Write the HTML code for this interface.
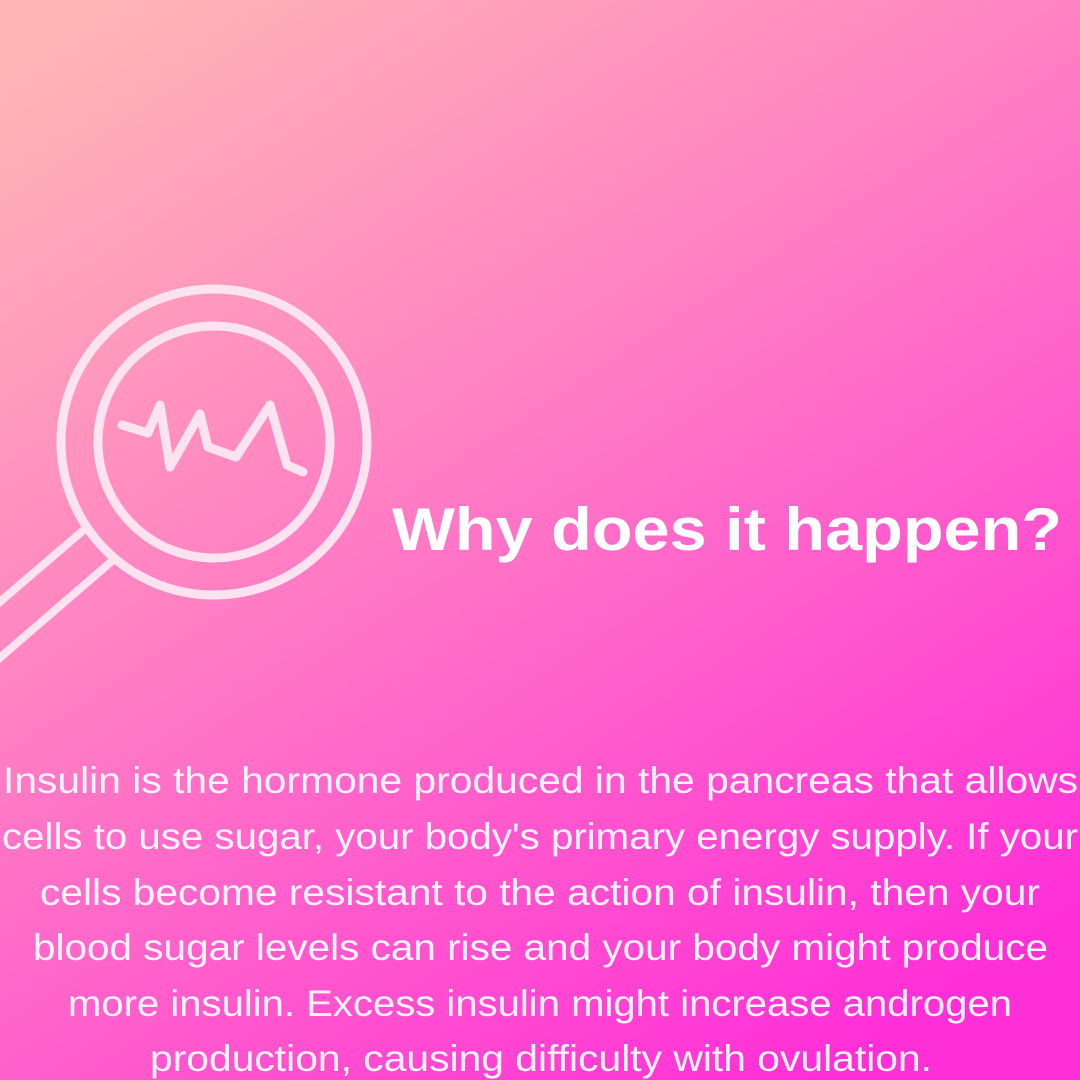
<!DOCTYPE html>
<html><head><meta charset="utf-8"><style>
html,body{margin:0;padding:0;width:1080px;height:1080px;overflow:hidden}
svg{display:block}
</style></head><body>
<svg width="1080" height="1080" viewBox="0 0 1080 1080" xmlns="http://www.w3.org/2000/svg">
<defs>
<linearGradient id="bg" x1="0.1" y1="0" x2="0.75" y2="1">
<stop offset="0" stop-color="#ffb5b5"/>
<stop offset="0.4" stop-color="#ff84c2"/>
<stop offset="1" stop-color="#ff2fd8"/>
</linearGradient>
</defs>
<rect width="1080" height="1080" fill="url(#bg)"/>
<g fill="none" stroke="#fde3ef" stroke-linecap="round" stroke-linejoin="round">
<circle cx="214" cy="442" r="153" stroke-width="9"/>
<circle cx="214" cy="442" r="116" stroke-width="9"/>
<line x1="86" y1="528" x2="-5" y2="606" stroke-width="8"/>
<line x1="112" y1="561" x2="-5" y2="662" stroke-width="8"/>
<polyline points="122,425 148,433 160,405 170,467 200,414 208,447 236,457 270,405 287,465 303,472" stroke-width="9"/>
</g>
<text x="392" y="550" textLength="670" lengthAdjust="spacingAndGlyphs" font-family="Liberation Sans, sans-serif" font-weight="bold" font-size="60" fill="#ffffff">Why does it happen?</text>
<g font-family="Liberation Sans, sans-serif" font-size="37" fill="#fff3fa" font-weight="300">
<text x="3" y="793" textLength="1075" lengthAdjust="spacingAndGlyphs">Insulin is the hormone produced in the pancreas that allows</text>
<text x="2" y="849" textLength="1076" lengthAdjust="spacingAndGlyphs">cells to use sugar, your body's primary energy supply. If your</text>
<text x="40" y="905" textLength="1000" lengthAdjust="spacingAndGlyphs">cells become resistant to the action of insulin, then your</text>
<text x="33" y="960" textLength="1015" lengthAdjust="spacingAndGlyphs">blood sugar levels can rise and your body might produce</text>
<text x="68" y="1016" textLength="944" lengthAdjust="spacingAndGlyphs">more insulin. Excess insulin might increase androgen</text>
<text x="150" y="1071" textLength="782" lengthAdjust="spacingAndGlyphs">production, causing difficulty with ovulation.</text>
</g>
</svg>
</body></html>
